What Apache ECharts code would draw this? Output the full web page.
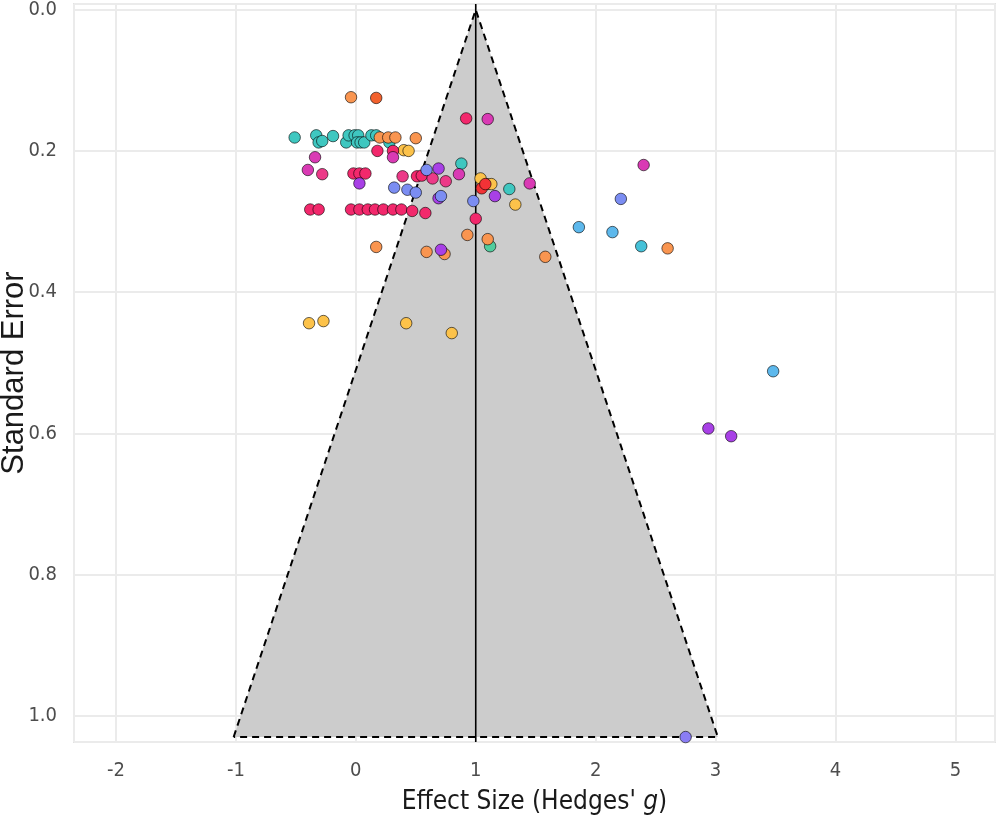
<!DOCTYPE html>
<html>
<head>
<meta charset="utf-8">
<script src="https://cdn.jsdelivr.net/npm/echarts@6/dist/echarts.min.js"></script>
<style>
  html, body { margin: 0; padding: 0; background: #fff; }
  #chart { width: 999px; height: 819px; }
</style>
</head>
<body>
<div id="chart"></div>
<script>
// funnel
const pooledEstimate = 1.0;
const maxSE = 1.03;
const zCrit = 1.96;

// studies, [hedges g, standard error], one list per colour group
const teal = [[-0.51,0.181],[-0.33,0.178],[-0.31,0.188],[-0.28,0.186],[-0.19,0.179],[-0.08,0.188],[-0.06,0.178],[-0.01,0.178],[0.02,0.178],[0.01,0.188],[0.04,0.188],[0.07,0.188],[0.13,0.178],[0.17,0.178],[0.28,0.188],[0.88,0.218],[1.28,0.254]];
const cyan = [[2.38,0.335]];
const seaGreen = [[1.12,0.335]];
const orange = [[-0.04,0.124],[0.20,0.181],[0.27,0.181],[0.33,0.181],[0.50,0.182],[0.17,0.336],[0.59,0.343],[0.74,0.346],[0.93,0.319],[1.10,0.325],[1.09,0.247],[1.58,0.350],[2.60,0.338]];
const redOrange = [[0.17,0.125]];
const yellow = [[0.40,0.199],[0.44,0.200],[1.04,0.239],[1.13,0.247],[1.33,0.276],[-0.39,0.444],[-0.27,0.441],[0.42,0.444],[0.80,0.458]];
const crimson = [[0.18,0.200],[0.31,0.200],[-0.02,0.232],[0.03,0.232],[0.08,0.232],[0.51,0.236],[0.55,0.235],[0.92,0.154],[1.00,0.296],[-0.38,0.283],[-0.31,0.283],[-0.04,0.283],[0.03,0.283],[0.10,0.283],[0.16,0.283],[0.23,0.283],[0.31,0.283],[0.38,0.283],[0.47,0.285],[0.58,0.288]];
const pink = [[-0.28,0.233],[0.39,0.236],[0.64,0.239],[0.75,0.243]];
const magenta = [[-0.34,0.209],[-0.40,0.227],[0.31,0.209],[1.10,0.155],[0.86,0.233],[1.45,0.246],[2.40,0.220]];
const purple = [[0.03,0.246],[0.69,0.225],[1.16,0.264],[0.69,0.267],[0.71,0.340],[2.94,0.593],[3.13,0.604]];
const periwinkle = [[0.59,0.227],[0.32,0.252],[0.43,0.255],[0.50,0.259],[0.71,0.264],[0.98,0.271],[2.21,0.268]];
const skyBlue = [[1.86,0.308],[2.14,0.315],[3.48,0.512]];
const red = [[1.05,0.253],[1.08,0.247]];
const lavender = [[2.75,1.03]];

const groups = [
  [teal, '#3fc7c0'], [cyan, '#45c1d8'], [seaGreen, '#52cd9e'],
  [orange, '#f99550'], [redOrange, '#f2612d'], [yellow, '#fcc24a'],
  [crimson, '#f2286c'], [pink, '#ec3a88'], [magenta, '#d93ab4'],
  [purple, '#a840e6'], [periwinkle, '#7b8df2'], [skyBlue, '#5db8ec'],
  [red, '#f23236'], [lavender, '#8a7df4']
];

const xMin = -2.35, xMax = 5.33;
const yMin = -0.008, yMax = 1.037;

const half = zCrit * maxSE;
const funnelEdge = [
  [pooledEstimate - half, maxSE],
  [pooledEstimate, 0],
  [pooledEstimate + half, maxSE],
  [pooledEstimate - half, maxSE]
];

const narrow = "'DejaVu Sans Condensed', 'Liberation Sans'";
const labelFont = { color: '#4d4d4d', fontSize: 20, fontFamily: narrow };

const scatterSeries = groups.map(g => ({
  type: 'scatter',
  data: g[0],
  symbol: 'circle',
  symbolSize: 11.5,
  itemStyle: { color: g[1], borderColor: 'rgba(0,0,0,0.75)', borderWidth: 0.8, opacity: 1 },
  z: 5
}));

const chart = echarts.init(document.getElementById('chart'));
chart.setOption({
  animation: false,
  grid: {
    left: 74, right: 4, top: 4, bottom: 77,
    containLabel: false, outerBoundsMode: 'none',
    show: true, borderColor: '#e2e2e2', borderWidth: 2
  },
  xAxis: {
    type: 'value', min: xMin, max: xMax, splitNumber: 8,
    axisLine: { show: false }, axisTick: { show: false },
    splitLine: { lineStyle: { color: '#ebebeb', width: 2 } },
    axisLabel: Object.assign({ margin: 19, showMinLabel: false, showMaxLabel: false,
      formatter: v => String(v) }, labelFont),
    name: "Effect Size (Hedges' {i|g})",
    nameLocation: 'middle', nameGap: 47, nameMoveOverlap: false,
    nameTextStyle: {
      color: '#1a1a1a', fontSize: 26, fontFamily: narrow,
      rich: { i: { fontStyle: 'italic', fontSize: 26, color: '#1a1a1a', fontFamily: narrow } }
    }
  },
  yAxis: {
    type: 'value', inverse: true, min: yMin, max: yMax, splitNumber: 5,
    axisLine: { show: false }, axisTick: { show: false },
    splitLine: { lineStyle: { color: '#ebebeb', width: 2 } },
    axisLabel: Object.assign({ margin: 17, showMinLabel: false, showMaxLabel: false,
      formatter: v => v.toFixed(1) }, labelFont),
    name: 'Standard Error',
    nameLocation: 'middle', nameGap: 44, nameMoveOverlap: false,
    nameTextStyle: { color: '#1a1a1a', fontSize: 31, fontFamily: 'Liberation Sans' }
  },
  series: [
    {
      type: 'custom',
      data: [[pooledEstimate, maxSE]],
      renderItem: (params, api) => {
        const pts = funnelEdge.slice(0, 3).map(p => api.coord(p));
        return { type: 'polygon', shape: { points: pts }, style: { fill: '#cccccc' } };
      },
      z: 1
    },
    {
      type: 'line',
      data: [[pooledEstimate, yMin], [pooledEstimate, yMax]],
      symbol: 'none',
      lineStyle: { color: '#000', width: 1.6 },
      z: 2
    },
    {
      type: 'line',
      data: funnelEdge,
      symbol: 'none',
      lineStyle: { color: '#000', width: 2, type: [7, 5] },
      z: 3
    }
  ].concat(scatterSeries)
});
</script>
</body>
</html>
